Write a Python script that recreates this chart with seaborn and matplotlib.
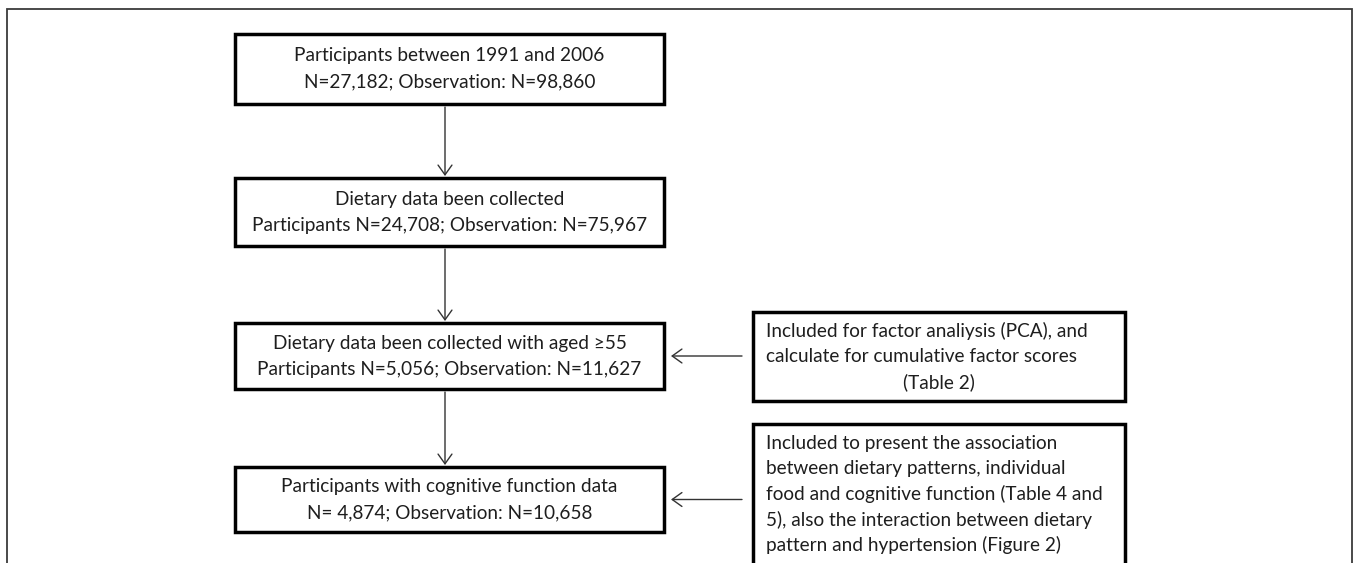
import matplotlib
matplotlib.use("Agg")
import matplotlib.pyplot as plt
import seaborn as sns
from matplotlib.patches import Rectangle, FancyArrowPatch

sns.set_theme(style="white")
plt.rcParams['font.family'] = ['Lato', 'DejaVu Sans']

# ---- content ----
main_titles = [
    "Participants between 1991 and 2006",
    "Dietary data been collected",
    "Dietary data been collected with aged \u226555",
    "Participants with cognitive function data",
]
main_counts = [
    "N=27,182; Observation: N=98,860",
    "Participants N=24,708; Observation: N=75,967",
    "Participants N=5,056; Observation: N=11,627",
    "N= 4,874; Observation: N=10,658",
]
side_lines_1 = [
    "Included for factor analiysis (PCA), and",
    "calculate for cumulative factor scores",
]
side_center_1 = "(Table 2)"
side_lines_2 = [
    "Included to present the association",
    "between dietary patterns, individual",
    "food and cognitive function (Table 4 and",
    "5), also the interaction between dietary",
    "pattern and hypertension (Figure 2)",
]

# ---- layout (pixels, y downward) ----
W, H = 1357, 563
main_x0, main_x1 = 235, 664
main_boxes_y = [(34, 104), (178, 246), (323, 389), (467, 532)]
side_x0, side_x1 = 753, 1125
side1_y = (312, 401)
side2_y = (424, 580)
arrow_x = 445
fs = 13.7
line_gap = 26
side_gap = 25.5
txt_color = "#1e1e1e"

fig = plt.figure(figsize=(W / 100, H / 100), dpi=100)
ax = fig.add_axes([0, 0, 1, 1])
ax.set_xlim(0, W)
ax.set_ylim(H, 0)
ax.axis("off")

# outer frame (open bottom)
ax.plot([7, 7, 1352, 1352], [H + 5, 9, 9, H + 5], color="#3a3a3a", lw=1.3,
        solid_joinstyle="miter", clip_on=False)

box_lw = 2.5

def box(x0, x1, y0, y1):
    ax.add_patch(Rectangle((x0, y0), x1 - x0, y1 - y0, fill=True, facecolor="white",
                           edgecolor="black", lw=box_lw, joinstyle="miter", clip_on=True))

def arrow(p0, p1):
    ax.add_patch(FancyArrowPatch(p0, p1, arrowstyle="->,head_length=7,head_width=5",
                                 color="#333333", lw=1.0, mutation_scale=1,
                                 shrinkA=0, shrinkB=0))

for (y0, y1), t, c in zip(main_boxes_y, main_titles, main_counts):
    box(main_x0, main_x1, y0, y1)
    cy = (y0 + y1) / 2
    xc = (main_x0 + main_x1) / 2
    ax.text(xc, cy - line_gap / 2, t, ha="center", va="center", fontsize=fs, color=txt_color)
    ax.text(xc, cy + line_gap / 2, c, ha="center", va="center", fontsize=fs, color=txt_color)

for i in range(3):
    arrow((arrow_x, main_boxes_y[i][1] + 3), (arrow_x, main_boxes_y[i + 1][0] - 2))

# side box 1
box(side_x0, side_x1, *side1_y)
sy = side1_y[0] + 19
for k, t in enumerate(side_lines_1):
    ax.text(side_x0 + 13, sy + k * side_gap, t, ha="left", va="center", fontsize=fs, color=txt_color)
ax.text((side_x0 + side_x1) / 2, sy + 2 * side_gap, side_center_1, ha="center", va="center",
        fontsize=fs, color=txt_color)

# side box 2
box(side_x0, side_x1, *side2_y)
sy = side2_y[0] + 19
for k, t in enumerate(side_lines_2):
    ax.text(side_x0 + 13, sy + k * side_gap, t, ha="left", va="center", fontsize=fs, color=txt_color)

# horizontal arrows
for yb in (main_boxes_y[2], main_boxes_y[3]):
    ym = sum(yb) / 2
    arrow((742, ym), (671, ym))

fig.savefig("out.png", dpi=100, facecolor="white")
